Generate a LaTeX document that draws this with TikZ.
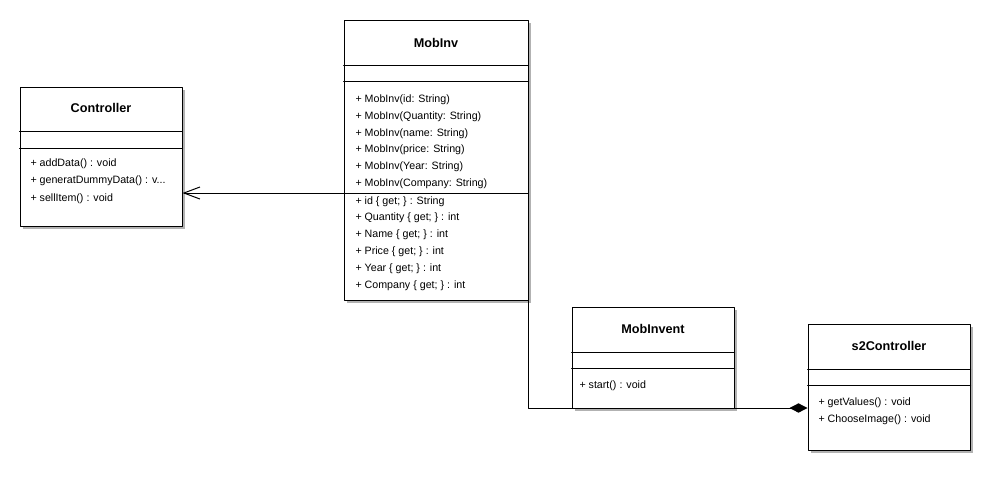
\documentclass[tikz,border=0pt]{standalone}
\usepackage{fontspec}
\setmainfont{Liberation Sans}
\usetikzlibrary{arrows,arrows.meta,fit,shadows}

\begin{document}
\begin{tikzpicture}[line cap=round,line join=round,line width=0.75pt,x=0.75pt,y=-0.75pt,
classbox/.style={draw=black,fill=white,inner sep=0pt,drop shadow={shadow xshift=2.25pt,shadow yshift=-2.25pt,fill=black!30,opacity=1}},
classname/.style={inner sep=0pt,font=\fontsize{9.5}{11}\selectfont\bfseries},
member/.style={anchor=west,inner sep=0pt,font=\fontsize{8}{9.5}\selectfont}]
\useasboundingbox (0,0) rectangle (995,476);
\node[classbox,fit={(20,87) (182,226)}] (ctrl) {};
\node[classbox,fit={(344,20) (528,300)}] (inv) {};
\node[classbox,fit={(572,307) (734,408)}] (invent) {};
\node[classbox,fit={(808,324) (970,450)}] (s2c) {};
\draw (ctrl.west |- 0,131) -- (ctrl.east |- 0,131);
\draw (ctrl.west |- 0,148) -- (ctrl.east |- 0,148);
\draw (inv.west |- 0,65) -- (inv.east |- 0,65);
\draw (inv.west |- 0,81) -- (inv.east |- 0,81);
\draw (invent.west |- 0,352) -- (invent.east |- 0,352);
\draw (invent.west |- 0,368) -- (invent.east |- 0,368);
\draw (s2c.west |- 0,369) -- (s2c.east |- 0,369);
\draw (s2c.west |- 0,385) -- (s2c.east |- 0,385);
\node[classname] (ctrlname) at (101,108) {Controller};
\node[member] (ctrlop1) at (30,163.5) {+ addData() : void};
\node[member] (ctrlop2) at (30,181) {+ generatDummyData() : v...};
\node[member] (ctrlop3) at (30,198.5) {+ sellItem() : void};
\node[classname] (invname) at (436,43) {MobInv};
\node[member] (invop1) at (355,99.5) {+ MobInv(id: String)};
\node[member] (invop2) at (355,116.5) {+ MobInv(Quantity: String)};
\node[member] (invop3) at (355,133.5) {+ MobInv(name: String)};
\node[member] (invop4) at (355,149.5) {+ MobInv(price: String)};
\node[member] (invop5) at (355,166.5) {+ MobInv(Year: String)};
\node[member] (invop6) at (355,183.5) {+ MobInv(Company: String)};
\node[member] (invprop1) at (355,201.5) {+ id \{ get; \} : String};
\node[member] (invprop2) at (355,217.5) {+ Quantity \{ get; \} : int};
\node[member] (invprop3) at (355,234.5) {+ Name \{ get; \} : int};
\node[member] (invprop4) at (355,251.5) {+ Price \{ get; \} : int};
\node[member] (invprop5) at (355,268.5) {+ Year \{ get; \} : int};
\node[member] (invprop6) at (355,285.5) {+ Company \{ get; \} : int};
\node[classname] (inventname) at (653,329) {MobInvent};
\node[member] (inventop1) at (579,385.5) {+ start() : void};
\node[classname] (s2cname) at (889,346) {s2Controller};
\node[member] (s2cop1) at (818,402.5) {+ getValues() : void};
\node[member] (s2cop2) at (818,419.5) {+ ChooseImage() : void};
\coordinate (upper) at (528,193);
\coordinate (lower) at (528,408);
\draw[{Straight Barb[length=12pt,width=9pt]}-{Diamond[length=13.5pt,width=7pt]}] (ctrl.east |- upper) -- (upper) -- (lower) -- (s2c.west |- lower);
\end{tikzpicture}
\end{document}
